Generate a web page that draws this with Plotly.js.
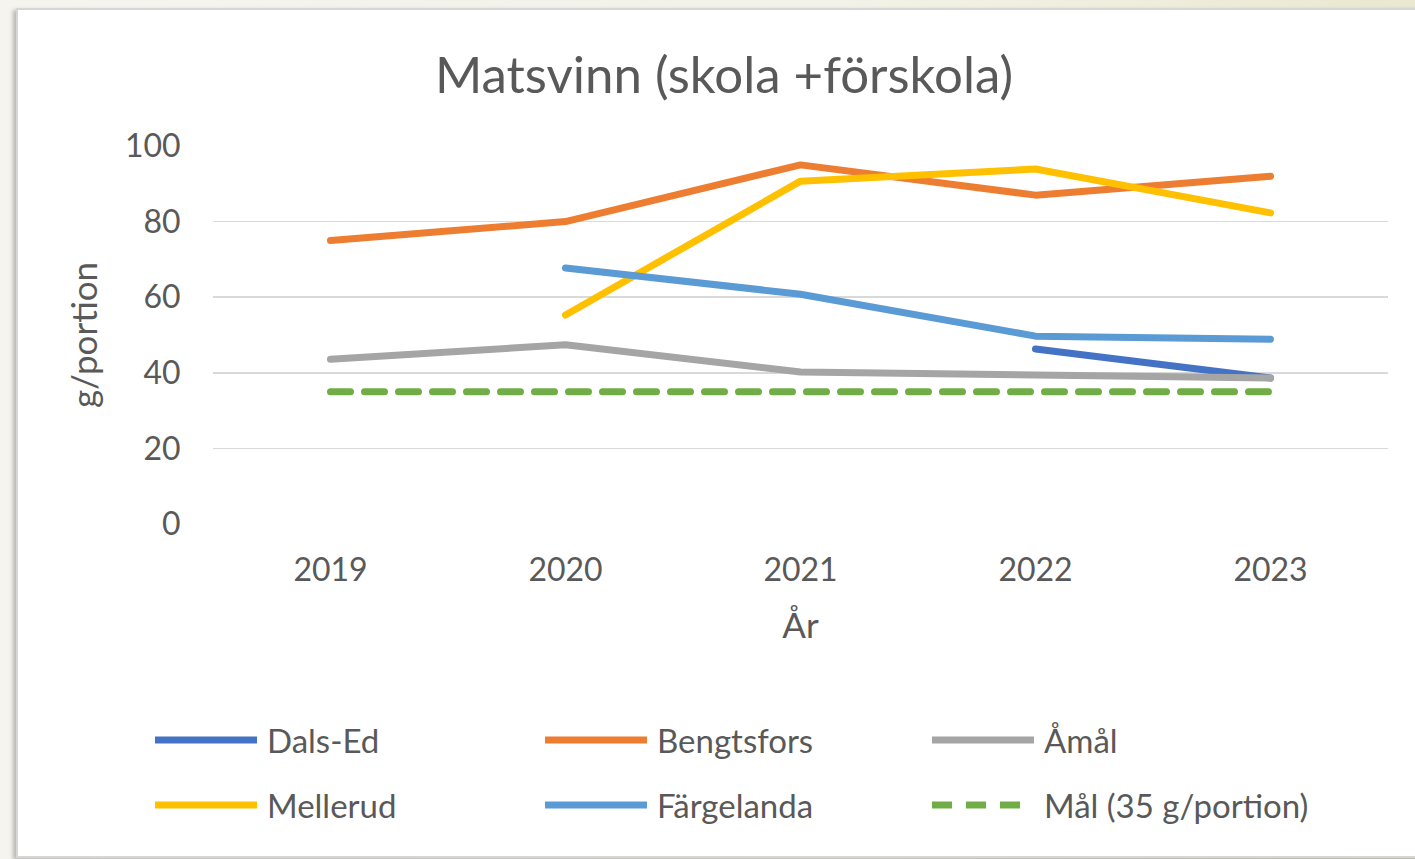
<!DOCTYPE html>
<html><head><meta charset="utf-8">
<script src="https://cdn.plot.ly/plotly-3.0.1.min.js"></script>
<style>
html,body{margin:0;padding:0;width:1415px;height:859px;overflow:hidden;background:linear-gradient(90deg,#f5f4ee 0%,#f3f2e8 60%,#ebe8d0 100%);}
#card{position:absolute;left:16px;top:8px;width:1410px;height:846px;background:#fff;border:2px solid #d6d6d6;box-shadow:-3px 2px 4px rgba(0,0,0,0.25);}
#chart{position:absolute;left:0;top:0;width:1415px;height:859px;}
#chart path.js-line{stroke-linecap:round;stroke-linejoin:round;}
</style></head>
<body><div id="card"></div><div id="chart"></div>
<script>
const years = ['2019','2020','2021','2022','2023'];
const dalsEd     = [null, null, null, 46.3, 38.6];
const bengtsfors = [75, 80, 95, 87, 92];
const amal       = [43.6, 47.4, 40.2, 39.4, 38.6];
const mellerud   = [null, 55.3, 90.7, 93.9, 82.3];
const fargelanda = [null, 67.7, 60.8, 49.7, 48.9];
const mal        = [35, 35, 35, 35, 35];
const seriesNames = ['Dals-Ed','Bengtsfors','Åmål','Mellerud','Färgelanda','Mål (35 g/portion)'];
const seriesData = [dalsEd, bengtsfors, amal, mellerud, fargelanda, mal];
const colors = ['#4472C4','#ED7D31','#A5A5A5','#FFC000','#5B9BD5','#70AD47'];
const dashes = ['solid','solid','solid','solid','solid','dash'];
const DASH = '20px,14px';

const FONT = 'Lato, "Open Sans", sans-serif';
const TXT = '#595959';

const traces = seriesData.map((d,i)=>({
  type:'scatter', mode:'lines', x:years, y:d, name:seriesNames[i],
  line:{color:colors[i], width:7, dash:dashes[i]==='dash'?DASH:'solid'},
  connectgaps:false, showlegend:false, hoverinfo:'x+y+name'
}));

// custom legend (3 columns x 2 rows)
const L = 213, T = 146, W = 1175, H = 378;
const px = v => (v - L)/W;
const py = v => (T + H - v)/H;
const colX = [155, 545, 932];
const rowY = [740, 805];
const shapes = [], annotations = [];
seriesNames.forEach((n,i)=>{
  const c = i%3, r = Math.floor(i/3);
  shapes.push({type:'line', xref:'paper', yref:'paper', x0:px(colX[c]), x1:px(colX[c]+102),
    y0:py(rowY[r]), y1:py(rowY[r]), line:{color:colors[i], width:7, dash:dashes[i]==='dash'?DASH:'solid'}});
  annotations.push({xref:'paper', yref:'paper', x:px(colX[c]+110), y:py(rowY[r]), xanchor:'left', yanchor:'middle',
    text:n, showarrow:false, font:{family:FONT, size:33, color:TXT}});
});

const layout = {
  width:1415, height:859,
  paper_bgcolor:'rgba(0,0,0,0)', plot_bgcolor:'rgba(0,0,0,0)',
  margin:{l:L, r:1415-L-W, t:T, b:859-T-H},
  title:{text:'Matsvinn (skola +förskola)', x:724/1415, xanchor:'center', y:1-75/859, yanchor:'middle',
    font:{family:FONT, size:51, color:TXT}},
  xaxis:{type:'category', range:[-0.5,4.5], showgrid:false, zeroline:false, showline:false,
    ticks:'outside', ticklen:18, tickcolor:'rgba(0,0,0,0)',
    tickfont:{family:FONT, size:32, color:TXT},
    title:{text:'År', font:{family:FONT, size:35, color:TXT}, standoff:26}},
  yaxis:{range:[0,100], dtick:20, showgrid:true, gridcolor:'#d9d9d9', gridwidth:1.5, zeroline:false,
    showline:false, ticks:'outside', ticklen:25, tickcolor:'rgba(0,0,0,0)',
    tickfont:{family:FONT, size:32, color:TXT},
    title:{text:'g/portion', font:{family:FONT, size:35, color:TXT}, standoff:16}},
  shapes, annotations, showlegend:false
};
Plotly.newPlot('chart', traces, layout, {displayModeBar:false, staticPlot:true});
</script></body></html>
